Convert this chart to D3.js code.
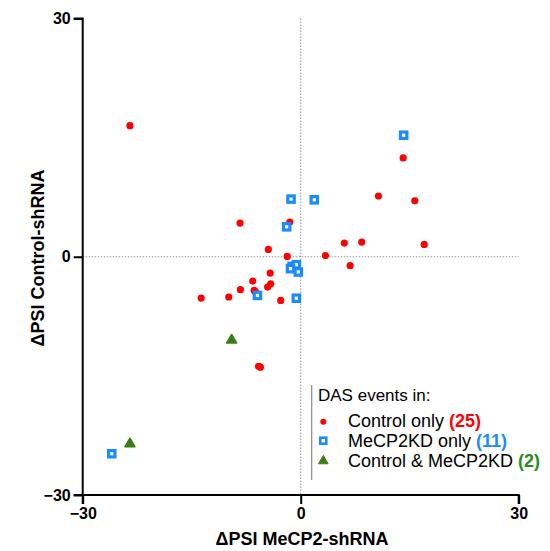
<!DOCTYPE html>
<html>
<head>
<meta charset="utf-8">
<script src="https://cdn.jsdelivr.net/npm/d3@7"></script>
<style>
  html, body { margin: 0; padding: 0; background: #fff; }
  svg { display: block; }
</style>
</head>
<body>
<div id="chart"></div>
<script>
// ---- data ----
const controlOnlyX = [-23.5, -8.35, -1.5, -4.45, -1.85, 14.1, 10.7, 15.7, 6.0, 8.4, 17.0, 3.4, 6.8, -4.2, -6.6, -8.3, -6.4, -6.25, -4.55, -4.13, -2.75, -13.7, -9.9, -5.8, -5.55];
const controlOnlyY = [16.5, 4.24, 4.36, 0.92, 0.04, 12.45, 7.64, 7.04, 1.72, 1.85, 1.55, 0.16, -1.13, -2.05, -3.06, -4.15, -4.24, -4.4, -3.82, -3.4, -5.5, -5.2, -5.07, -13.8, -13.9];
const mecpOnlyX = [-1.33, 1.87, -1.93, 14.17, -1.2, -0.6, -0.33, -5.95, -0.6, -26.0, -1.4];
const mecpOnlyY = [7.26, 7.17, 3.77, 15.3, -1.22, -1.0, -1.92, -4.87, -5.22, -24.8, -1.5];
const bothX = [-9.5, -23.5];
const bothY = [-10.44, -23.5];
const tickValues = [-30, 0, 30];
const xTitle = "\u0394PSI MeCP2-shRNA";
const yTitle = "\u0394PSI Control-shRNA";
const legendTitle = "DAS events in:";
const legendLabels = ["Control only ", "MeCP2KD only ", "Control & MeCP2KD "];
const legendCounts = ["(25)", "(11)", "(2)"];

const RED = "#ff0000", BLUE = "#1a8cff", GREEN = "#3b7d14", GREEN_TXT = "#2e8b1e";
const FONT = "'Liberation Sans', Arial, Helvetica, sans-serif";

const W = 550, H = 551;
const svg = d3.select("#chart").append("svg").attr("width", W).attr("height", H)
  .style("font-family", FONT);

const x = d3.scaleLinear().domain([-30, 30]).range([82.7, 518.7]);
const y = d3.scaleLinear().domain([-30, 30]).range([495, 18.5]);

// reference dotted lines
svg.append("line").attr("x1", x(0)).attr("x2", x(0)).attr("y1", y(30)).attr("y2", y(-30))
  .attr("stroke", "#999").attr("stroke-width", 1).attr("stroke-dasharray", "1.5,1.5");
svg.append("line").attr("x1", x(-30)).attr("x2", x(30)).attr("y1", y(0)).attr("y2", y(0))
  .attr("stroke", "#999").attr("stroke-width", 1).attr("stroke-dasharray", "1.5,1.5");

// axes
const xAxis = svg.append("g").attr("transform", `translate(0,${y(-30)})`)
  .call(d3.axisBottom(x).tickValues(tickValues).tickSize(9).tickPadding(4).tickFormat(d3.format("d")));
const yAxis = svg.append("g").attr("transform", `translate(${x(-30)},0)`)
  .call(d3.axisLeft(y).tickValues(tickValues).tickSize(9).tickPadding(3).tickFormat(d3.format("d")));
[xAxis, yAxis].forEach(g => {
  g.select(".domain").attr("stroke", "#000").attr("stroke-width", 2);
  g.selectAll(".tick line").attr("stroke", "#000").attr("stroke-width", 2);
  g.selectAll(".tick text").attr("fill", "#000").style("font-size", "16px")
    .style("font-weight", "bold").style("font-family", FONT);
});
xAxis.select(".domain").attr("d", `M${x(-30)},9V0H${x(30)}V9`);
yAxis.select(".domain").attr("d", `M-9,${y(30)}H0V${y(-30)}H-9`);

// axis titles
svg.append("text").attr("x", 302).attr("y", 545).attr("text-anchor", "middle")
  .style("font-size", "18px").style("font-weight", "bold").text(xTitle);
svg.append("text").attr("transform", `translate(44,258) rotate(-90)`).attr("text-anchor", "middle")
  .style("font-size", "18px").style("font-weight", "bold").text(yTitle);

// marks
const tri = d3.symbol().type(d3.symbolTriangle).size(40);
svg.append("g").selectAll("circle").data(controlOnlyX).join("circle")
  .attr("cx", d => x(d)).attr("cy", (d, i) => y(controlOnlyY[i])).attr("r", 3.6).attr("fill", RED);
svg.append("g").selectAll("rect").data(mecpOnlyX).join("rect")
  .attr("x", d => x(d) - 3.2).attr("y", (d, i) => y(mecpOnlyY[i]) - 3.2).attr("width", 6.4).attr("height", 6.4)
  .attr("fill", "#fff").attr("stroke", BLUE).attr("stroke-width", 3.2);
svg.append("g").selectAll("path").data(bothX).join("path")
  .attr("d", tri).attr("transform", (d, i) => `translate(${x(d)},${y(bothY[i]) + 0.5})`)
  .attr("fill", GREEN).attr("stroke", GREEN).attr("stroke-width", 1.8).attr("stroke-linejoin", "round");

// legend
const lg = svg.append("g");
lg.append("line").attr("x1", 311.7).attr("x2", 311.7).attr("y1", 385).attr("y2", 480)
  .attr("stroke", "#888").attr("stroke-width", 1.2);
lg.append("text").attr("x", 318).attr("y", 401).style("font-size", "17px").text(legendTitle);
const rowY = [427, 447, 467];
const cntColors = [RED, BLUE, GREEN_TXT];
legendLabels.forEach((lab, i) => {
  const t = lg.append("text").attr("x", 348).attr("y", rowY[i]).style("font-size", "18px");
  t.append("tspan").text(lab);
  t.append("tspan").attr("fill", cntColors[i]).style("font-weight", "bold").text(legendCounts[i]);
});
lg.append("circle").attr("cx", 323.3).attr("cy", 421.7).attr("r", 3).attr("fill", RED);
lg.append("rect").attr("x", 320.3).attr("y", 437.7).attr("width", 6).attr("height", 6)
  .attr("fill", "#fff").attr("stroke", BLUE).attr("stroke-width", 2.6);
lg.append("path").attr("d", tri).attr("transform", "translate(323.3,461)")
  .attr("fill", GREEN).attr("stroke", GREEN).attr("stroke-width", 1).attr("stroke-linejoin", "round");
</script>
</body>
</html>
